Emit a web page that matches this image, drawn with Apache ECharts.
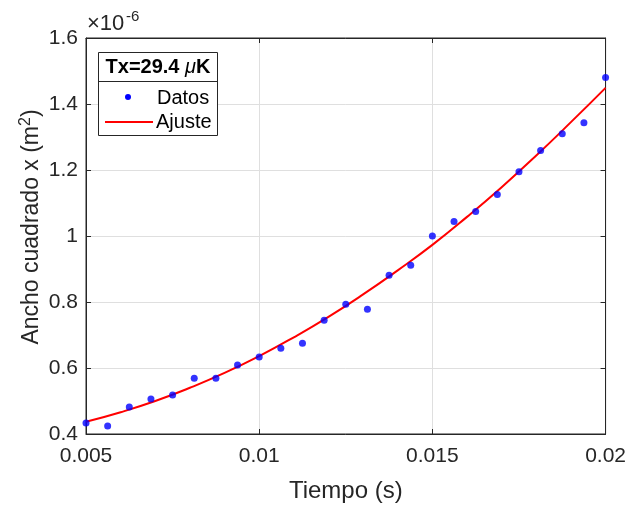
<!DOCTYPE html>
<html><head><meta charset="utf-8">
<script src="https://cdn.jsdelivr.net/npm/echarts@6/dist/echarts.min.js"></script>
<style>html,body{margin:0;padding:0;background:#fff}#c{width:629px;height:508px}</style>
</head><body><div id="c"></div>
<script>
// Data (y in units of 1e-6 m^2)
const tiempo = [0.005, 0.005625, 0.00625, 0.006875, 0.0075, 0.008125, 0.00875, 0.009375, 0.01, 0.010625, 0.01125, 0.011875, 0.0125, 0.013125, 0.01375, 0.014375, 0.015, 0.015625, 0.01625, 0.016875, 0.0175, 0.018125, 0.01875, 0.019375, 0.02];
const datos = [0.433, 0.424, 0.482, 0.506, 0.518, 0.569, 0.569, 0.609, 0.633, 0.660, 0.675, 0.745, 0.793, 0.778, 0.881, 0.911, 1.000, 1.044, 1.074, 1.126, 1.195, 1.259, 1.310, 1.343, 1.480];
const tiempoAjuste = [0.005, 0.006, 0.007, 0.008, 0.009, 0.010, 0.011, 0.012, 0.013, 0.014, 0.015, 0.016, 0.017, 0.018, 0.019, 0.020];
const ajuste = [0.437, 0.466, 0.500, 0.540, 0.585, 0.636, 0.693, 0.755, 0.823, 0.896, 0.973, 1.058, 1.148, 1.244, 1.345, 1.449];
const xTickLabels = ['0.005', '0.01', '0.015', '0.02'];
const yTickLabels = ['0.4', '0.6', '0.8', '1', '1.2', '1.4', '1.6'];

const FONT = 'Liberation Sans, Arial, sans-serif';
const TXT = '#262626';
const chart = echarts.init(document.getElementById('c'), null, {renderer: 'canvas'});
const xFmt = v => { const i = Math.round((v - 0.005) / 0.005); return xTickLabels[i] ?? ''; };
const yFmt = v => { const i = Math.round((v - 0.4) / 0.2); return yTickLabels[i] ?? ''; };
const tickIn = {show: true, inside: true, length: 5, lineStyle: {color: TXT, width: 1}};
chart.setOption({
  animation: false,
  backgroundColor: '#fff',
  grid: {left: 86, right: 23, top: 38, bottom: 73, show: true, borderColor: TXT, borderWidth: 1, containLabel: false},
  xAxis: [{
    type: 'value', min: 0.005, max: 0.02, interval: 0.005,
    axisLine: {show: true, onZero: false, lineStyle: {color: TXT}},
    axisTick: tickIn,
    splitLine: {show: true, lineStyle: {color: '#dfdfdf', width: 1}},
    axisLabel: {formatter: xFmt, color: TXT, fontSize: 21, fontFamily: FONT, margin: 12},
    name: 'Tiempo (s)', nameLocation: 'middle', nameGap: 45,
    nameTextStyle: {color: TXT, fontSize: 24, fontFamily: FONT}
  }, {
    type: 'value', position: 'top', min: 0.005, max: 0.02, interval: 0.005,
    axisLine: {show: true, onZero: false, lineStyle: {color: TXT}},
    axisTick: tickIn, axisLabel: {show: false}, splitLine: {show: false}
  }],
  yAxis: [{
    type: 'value', min: 0.4, max: 1.6, interval: 0.2,
    axisLine: {show: true, onZero: false, lineStyle: {color: TXT}},
    axisTick: tickIn,
    splitLine: {show: true, lineStyle: {color: '#dfdfdf', width: 1}},
    axisLabel: {formatter: yFmt, color: TXT, fontSize: 21, fontFamily: FONT, margin: 8},
    name: '{a|Ancho cuadrado x (m}{s|2}{a|)}', nameLocation: 'middle', nameGap: 40, nameRotate: 90,
    nameMoveOverlap: false,
    nameTextStyle: {color: TXT, fontSize: 23, fontFamily: FONT, padding: [0, 0, 0, 18],
      rich: {a: {fontSize: 23, fontFamily: FONT, color: TXT}, s: {fontSize: 16, fontFamily: FONT, color: TXT, verticalAlign: 'top', padding: [0, 0, 12, 0]}}}
  }, {
    type: 'value', position: 'right', min: 0.4, max: 1.6, interval: 0.2,
    axisLine: {show: true, onZero: false, lineStyle: {color: TXT}},
    axisTick: tickIn, axisLabel: {show: false}, splitLine: {show: false}
  }],
  series: [{
    name: 'Ajuste', type: 'line', smooth: true, showSymbol: false,
    data: tiempoAjuste.map((t, i) => [t, ajuste[i]]),
    lineStyle: {color: '#ff0000', width: 2}, z: 2
  }, {
    name: 'Datos', type: 'scatter', symbol: 'circle', symbolSize: 7,
    data: tiempo.map((t, i) => [t, datos[i]]),
    itemStyle: {color: '#0000ff'}, z: 3
  }],
  graphic: [
    {type: 'text', left: 87, top: 13, style: {text: '×10', font: '22px ' + FONT, fill: TXT}},
    {type: 'text', left: 126, top: 9, style: {text: '-6', font: '15px ' + FONT, fill: TXT}},
    {type: 'rect', shape: {x: 98.5, y: 52.5, width: 119, height: 83}, style: {fill: '#fff', stroke: TXT, lineWidth: 1}, z: 10},
    {type: 'line', shape: {x1: 98.5, y1: 81.5, x2: 217.5, y2: 81.5}, style: {stroke: TXT, lineWidth: 1}, z: 11},
    {type: 'text', x: 158, y: 67.5, z: 11, style: {text: '{b|Tx=29.4 }{i|μ}{b|K}', align: 'center', verticalAlign: 'middle',
      rich: {b: {font: 'bold 20px ' + FONT, fill: '#000'}, i: {font: 'italic 20px ' + FONT, fill: '#000'}}}},
    {type: 'circle', shape: {cx: 128, cy: 97, r: 3}, style: {fill: '#0000ff'}, z: 11},
    {type: 'text', x: 157, y: 98, z: 11, style: {text: 'Datos', font: '20px ' + FONT, fill: '#000', verticalAlign: 'middle'}},
    {type: 'line', shape: {x1: 105, y1: 122, x2: 153, y2: 122}, style: {stroke: '#ff0000', lineWidth: 2}, z: 11},
    {type: 'text', x: 156, y: 122.5, z: 11, style: {text: 'Ajuste', font: '20px ' + FONT, fill: '#000', verticalAlign: 'middle'}}
  ]
});
</script></body></html>
